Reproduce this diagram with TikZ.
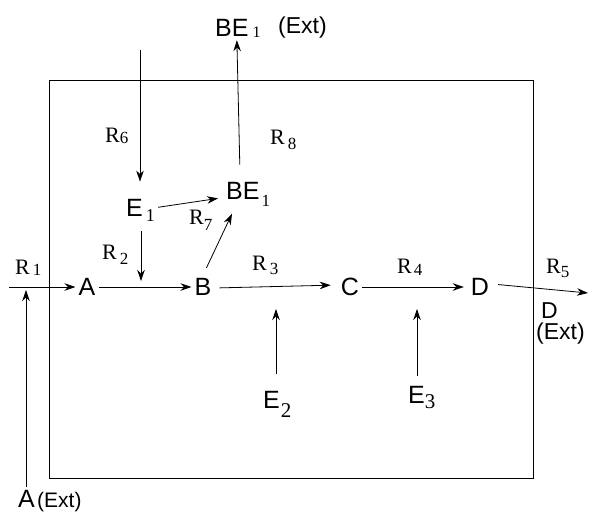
\documentclass[tikz,border=0pt]{standalone}
\usepackage{fontspec}
\setmainfont{Liberation Serif}
\newfontfamily\arialf{Liberation Sans}
\usetikzlibrary{arrows.meta}
% letter + lowered serif subscript: #1 letters, #2 digit, #3 gap, #4 lowering, #5 digit size
\newcommand{\spsub}[5]{#1\hspace{#3}\raisebox{-#4}{\rmfamily\fontsize{#5}{#5}\selectfont #2}}
% R label: #1 digit, #2 gap, #3 lowering
\newcommand{\rlab}[3]{R\hspace{#2}\raisebox{-#3}{\fontsize{17}{17}\selectfont #1}}
\tikzset{
  sp/.style={font=\arialf\fontsize{25}{25}\selectfont, inner sep=3pt},
  rl/.style={font=\fontsize{22}{22}\selectfont, inner sep=0pt, anchor=base west},
  extl/.style={font=\arialf\fontsize{23}{23}\selectfont, inner sep=0pt, anchor=base west},
  arr/.style={-{Stealth[length=11pt,width=7.5pt,inset=3.5pt]}, line width=0.8pt},
}
\begin{document}
\begin{tikzpicture}[x=1pt,y=-1pt]
\useasboundingbox (0,0) rectangle (589,512);
% compartment
\draw[line width=0.8pt] (49,80) rectangle (533,478);
% species
\node[sp] (A) at (87,287) {A};
\node[sp] (B) at (203,287) {B};
\node[sp] (C) at (350,287) {C};
\node[sp] (D) at (480,287) {D};
\node[sp, anchor=base west] (E1) at (123,216) {\spsub{E}{1}{3pt}{5pt}{18}};
\node[sp, anchor=base west] (BE1) at (223,199) {\spsub{BE}{1}{2pt}{7pt}{17}};
\node[sp, anchor=base west] (BEt) at (212,36) {\spsub{BE}{1}{4pt}{1pt}{16}};
\node[sp, anchor=base west] (E2) at (260,408) {\spsub{E}{2}{1pt}{9pt}{21}};
\node[sp, anchor=base west] (E3) at (405,403) {\spsub{E}{3}{0pt}{5pt}{21}};
\node[sp, anchor=base west] (Aext) at (15,507) {A};
% external labels
\node[extl] (BEtx) at (278,33) {(Ext)};
\node[extl, font=\arialf\fontsize{21}{21}\selectfont] (Aextx) at (37,507) {(Ext)};
\node[extl] (Dx) at (541,318) {D};
\node[extl] (Dxx) at (536,339) {(Ext)};
% reaction labels
\node[rl] (R1) at (15,274) {\rlab{1}{3pt}{1pt}};
\node[rl] (R2) at (102,259) {\rlab{2}{3pt}{5pt}};
\node[rl] (R3) at (252,270) {\rlab{3}{3pt}{4pt}};
\node[rl] (R4) at (397,273) {\rlab{4}{2pt}{2pt}};
\node[rl] (R5) at (546,273) {\rlab{5}{0pt}{4pt}};
\node[rl] (R6) at (105,142) {\rlab{6}{0pt}{1pt}};
\node[rl] (R7) at (189,224) {\rlab{7}{0pt}{6pt}};
\node[rl] (R8) at (270,144) {\rlab{8}{3pt}{5pt}};
% free ends
\coordinate (r1s) at (9,287);
\coordinate (ax) at (26,290);
\coordinate (r6s) at (140,50);
\coordinate (r2t) at (141,281);
\coordinate (e2t) at (276,309);
\coordinate (e3t) at (417,309);
\coordinate (dout) at (588,293);
% connectors
\draw[arr] (r1s) -- (A);
\draw[arr] (Aext.north -| ax) -- (ax);
\draw[arr] (A) -- (B);
\draw[arr, shorten <=5pt, shorten >=7pt] ([yshift=-1pt]B.east) -- ([yshift=2pt]C.west);
\draw[arr, shorten >=4pt] (C) -- (D);
\draw[arr, shorten <=6pt] ([yshift=3pt]D.east) -- (dout);
\draw[arr, shorten >=14pt] (r6s) -- (r6s |- E1.north);
\draw[arr, shorten <=7pt] (E1.south -| r2t) -- (r2t);
\draw[arr, shorten >=5pt] (E1) -- (BE1);
\draw[arr, shorten <=8pt, shorten >=5pt] (B.north) -- ([xshift=-14pt]BE1.south);
\draw[arr, shorten <=14pt] ([xshift=-8pt]BE1.north) -- ([xshift=-1pt]BEt.south);
\draw[arr, shorten <=14pt] (E2.north -| e2t) -- (e2t);
\draw[arr, shorten <=7pt] (E3.north -| e3t) -- (e3t);
\end{tikzpicture}
\end{document}
